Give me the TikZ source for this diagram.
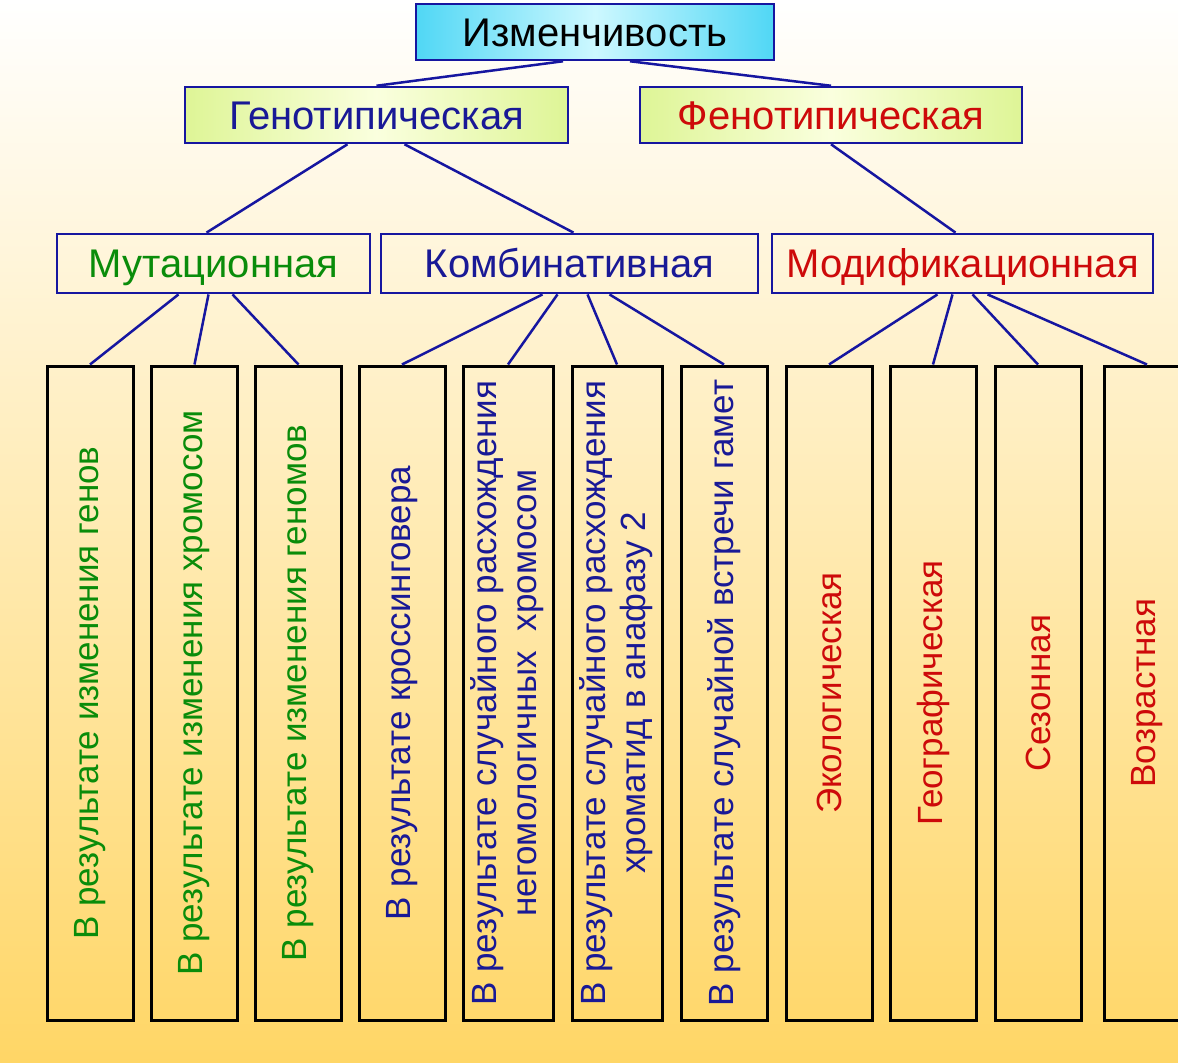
\documentclass[tikz,border=0pt]{standalone}
\usepackage{fontspec}
\setmainfont{Liberation Sans}
\usetikzlibrary{positioning,calc}
\definecolor{linkblue}{RGB}{22,22,160}
\definecolor{txtgreen}{RGB}{10,140,10}
\definecolor{txtblue}{RGB}{25,25,150}
\definecolor{txtred}{RGB}{205,10,10}
\definecolor{cyanedge}{RGB}{80,215,245}
\definecolor{cyanmid}{RGB}{205,248,255}
\definecolor{limeedge}{RGB}{222,245,150}
\definecolor{limemid}{RGB}{250,255,222}
\definecolor{bgmid}{RGB}{255,244,212}
\definecolor{bgbot}{RGB}{255,214,102}

\begin{document}
\begin{tikzpicture}[x=0.5pt,y=-0.5pt,
  head/.style={draw=linkblue, line width=1.25pt, minimum height=28pt, inner sep=0pt,
    text height=14.3pt, text depth=0pt, font=\fontsize{20}{24}\selectfont},
  kind/.style={draw=linkblue, line width=1.4pt, minimum height=29.5pt, inner sep=0pt,
    text height=14.3pt, text depth=0pt, font=\fontsize{20}{24}\selectfont},
  leaf/.style={draw=black, line width=1.5pt, minimum width=43pt, minimum height=327pt,
    inner sep=0pt, font=\fontsize{17.5}{20}\selectfont},
  link/.style={draw=linkblue, line width=1.25pt}]

% Frame and background
\useasboundingbox (0,0) rectangle (1178,1062);
\clip (0,0) rectangle (1178,1062);
\shade[top color=white, middle color=bgmid, bottom color=bgbot] (0,0) rectangle (1178,1062);

% Top of the tree
\node[head, minimum width=179pt, left color=cyanedge, right color=cyanedge, middle color=cyanmid]
  (izm) at (595,32) {Изменчивость};
\node[head, minimum width=191.5pt, text=txtblue, left color=limeedge, right color=limeedge, middle color=limemid]
  (gen) at (376.5,115) {Генотипическая};
\node[head, minimum width=191pt, text=txtred, left color=limeedge, right color=limeedge, middle color=limemid]
  (phen) at (831,115) {Фенотипическая};

% Kinds of variation
\node[kind, minimum width=156.5pt, text=txtgreen] (mut) at (213.5,263.5) {Мутационная};
\node[kind, minimum width=188.5pt, text=txtblue] (komb) at (569.5,263.5) {Комбинативная};
\node[kind, minimum width=190.5pt, text=txtred] (mod) at (962.5,263.5) {Модификационная};

% Leaves (text rotated)
\node[leaf, text=txtgreen] (b1) at (90,693) {\rotatebox{90}{В результате изменения генов}};
\node[leaf, text=txtgreen] (b2) at (194.5,693) {\rotatebox{90}{В результате изменения хромосом}};
\node[leaf, text=txtgreen] (b3) at (298.5,693) {\rotatebox{90}{В результате изменения геномов}};
\node[leaf, text=txtblue] (b4) at (402,693) {\rotatebox{90}{В результате кроссинговера}};
\node[leaf, text=txtblue, minimum width=45pt] (b5) at (508,693)
  {\rotatebox{90}{\begin{tabular}{@{}c@{}}В результате случайного расхождения\\негомологичных\ \ хромосом\end{tabular}}};
\node[leaf, text=txtblue, minimum width=45pt] (b6) at (617,693)
  {\rotatebox{90}{\begin{tabular}{@{}c@{}}В результате случайного расхождения\\хроматид в анафазу 2\end{tabular}}};
\node[leaf, text=txtblue] (b7) at (724,693) {\rotatebox{90}{В результате случайной встречи гамет}};
\node[leaf, text=txtred] (b8) at (829,693) {\rotatebox{90}{Экологическая}};
\node[leaf, text=txtred] (b9) at (933,693) {\rotatebox{90}{Географическая}};
\node[leaf, text=txtred] (b10) at (1038,693) {\rotatebox{90}{Сезонная}};
\node[leaf, text=txtred] (b11) at (1147,693) {\rotatebox{90}{Возрастная}};

% Connectors
\draw[link] ($(izm.south)+(-32,0)$) -- (gen.north);
\draw[link] ($(izm.south)+(35,0)$) -- (phen.north);
\draw[link] ($(gen.south)+(-29,0)$) -- ($(mut.north)+(-7,0)$);
\draw[link] ($(gen.south)+(28,0)$) -- ($(komb.north)+(4,0)$);
\draw[link] (phen.south) -- ($(mod.north)+(-7,0)$);

\draw[link] ($(mut.south)+(-35,0)$) -- (b1.north);
\draw[link] ($(mut.south)+(-5,0)$) -- (b2.north);
\draw[link] ($(mut.south)+(19,0)$) -- (b3.north);

\draw[link] ($(komb.south)+(-27,0)$) -- (b4.north);
\draw[link] ($(komb.south)+(-12,0)$) -- (b5.north);
\draw[link] ($(komb.south)+(18,0)$) -- (b6.north);
\draw[link] ($(komb.south)+(40,0)$) -- (b7.north);

\draw[link] ($(mod.south)+(-25,0)$) -- (b8.north);
\draw[link] ($(mod.south)+(-10,0)$) -- (b9.north);
\draw[link] ($(mod.south)+(10,0)$) -- (b10.north);
\draw[link] ($(mod.south)+(25,0)$) -- (b11.north);
\end{tikzpicture}
\end{document}
